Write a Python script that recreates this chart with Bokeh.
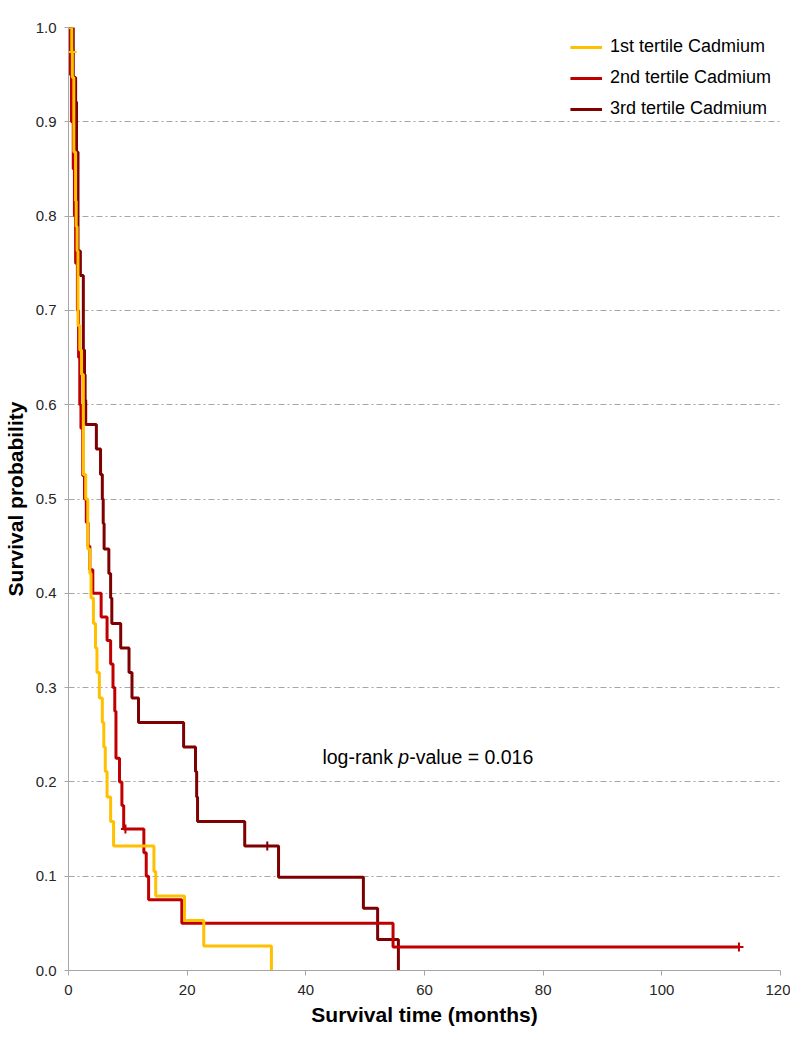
from bokeh.plotting import figure
from bokeh.models import (FixedTicker, NumeralTickFormatter, Label, Legend,
                          LegendItem, Range1d)
from bokeh.embed import file_html
from bokeh.resources import INLINE

# ---------------- data ----------------
t1_times = [0, 0.55, 0.65, 0.9, 1.2, 1.3, 1.45, 1.6, 1.9, 2.2, 2.5, 2.9, 3.25, 3.6,
            3.8, 4.2, 4.55, 4.8, 5.2, 5.7, 5.95, 6.2, 6.5, 7.1, 7.6, 14.4, 14.7,
            19.55, 22.8, 34.2]
t1_surv = [1.0, 0.974, 0.947, 0.868, 0.816, 0.789, 0.763, 0.684, 0.658, 0.632,
           0.526, 0.5, 0.447, 0.421, 0.395, 0.368, 0.342, 0.316, 0.289, 0.263,
           0.237, 0.211, 0.184, 0.158, 0.132, 0.105, 0.079, 0.053, 0.026, 0.0]
t1_cens_x = [0.6]
t1_cens_y = [0.974]

t2_times = [0, 0.3, 0.5, 0.8, 1.0, 1.2, 1.5, 1.7, 1.9, 2.1, 2.4, 2.7, 3.0, 3.3, 3.6,
            4.1, 5.5, 6.5, 7.1, 7.5, 7.8, 8.0, 8.6, 9.0, 9.3, 12.7, 13.1, 13.5,
            19.1, 54.7, 113.0]
t2_surv = [1.0, 0.95, 0.9, 0.85, 0.8, 0.75, 0.7, 0.65, 0.6, 0.575, 0.525, 0.5,
           0.475, 0.45, 0.425, 0.4, 0.375, 0.35, 0.325, 0.3, 0.275, 0.225, 0.2,
           0.175, 0.15, 0.125, 0.1, 0.075, 0.05, 0.025, 0.025]
t2_cens_x = [9.6, 113.0]
t2_cens_y = [0.15, 0.025]

t3_times = [0, 0.8, 1.2, 1.35, 1.6, 2.0, 2.5, 2.7, 2.8, 2.9, 4.7, 5.4, 5.7, 5.85,
            6.0, 6.8, 7.1, 7.3, 8.8, 10.2, 10.7, 11.8, 19.4, 21.4, 21.6, 21.75,
            29.7, 35.4, 49.7, 52.1, 55.6]
t3_surv = [1.0, 0.947, 0.921, 0.868, 0.763, 0.737, 0.658, 0.632, 0.605, 0.579,
           0.553, 0.526, 0.5, 0.474, 0.447, 0.421, 0.395, 0.368, 0.342, 0.316,
           0.289, 0.263, 0.237, 0.211, 0.184, 0.158, 0.132, 0.099, 0.066, 0.033,
           0.0]
t3_cens_x = [33.5]
t3_cens_y = [0.132]

series_names = ["1st tertile Cadmium", "2nd tertile Cadmium", "3rd tertile Cadmium"]
series_colors = ["#FFC000", "#C00000", "#7F0000"]

x_ticks = [0, 20, 40, 60, 80, 100, 120]
y_ticks = [0.0, 0.1, 0.2, 0.3, 0.4, 0.5, 0.6, 0.7, 0.8, 0.9, 1.0]

annot_x = 42.8
annot_y = 0.226

# ---------------- figure ----------------
FONT = "Liberation Sans"
p = figure(width=790, height=1040, x_range=Range1d(0, 120), y_range=Range1d(0, 1),
           output_backend="svg", toolbar_location=None,
           min_border_left=68, min_border_right=10, min_border_top=27,
           min_border_bottom=70)
p.outline_line_color = None
p.background_fill_color = "white"

# curves: draw 3rd, 2nd, then 1st on top
r3 = p.step(t3_times, t3_surv, mode="after", line_color=series_colors[2], line_width=3)
p.scatter(t3_cens_x, t3_cens_y, marker="cross", size=9, line_width=2,
          line_color=series_colors[2])
r2 = p.step(t2_times, t2_surv, mode="after", line_color=series_colors[1], line_width=3)
p.scatter(t2_cens_x, t2_cens_y, marker="cross", size=9, line_width=2,
          line_color=series_colors[1])
r1 = p.step(t1_times, t1_surv, mode="after", line_color=series_colors[0], line_width=3)
p.scatter(t1_cens_x, t1_cens_y, marker="cross", size=9, line_width=2,
          line_color=series_colors[0])

# axes
for ax in (p.xaxis, p.yaxis):
    ax.axis_line_color = "#a6a6a6"
    ax.major_tick_line_color = "#a6a6a6"
    ax.minor_tick_line_color = None
    ax.major_tick_in = 0
    ax.major_tick_out = 5
    ax.major_label_text_font = FONT
    ax.major_label_text_font_size = "15px"
    ax.major_label_text_color = "#262626"
    ax.axis_label_text_font = FONT
    ax.axis_label_text_font_size = "21px"
    ax.axis_label_text_font_style = "bold"
    ax.axis_label_text_color = "#000000"

p.xaxis.ticker = FixedTicker(ticks=x_ticks)
p.yaxis.ticker = FixedTicker(ticks=y_ticks)
p.yaxis.formatter = NumeralTickFormatter(format="0.0")
p.xaxis.axis_label = "Survival time (months)"
p.yaxis.axis_label = "Survival probability"
p.xaxis.major_label_standoff = 9
p.xaxis.axis_label_standoff = 5
p.yaxis.major_tick_out = 4
p.yaxis.major_label_standoff = 8
p.yaxis.axis_label_standoff = 6

p.xgrid.visible = False
p.ygrid.grid_line_color = "#a6a6a6"
p.ygrid.grid_line_dash = "6 3 2 3"
p.ygrid.grid_line_width = 1

# legend
legend = Legend(items=[LegendItem(label=series_names[0], renderers=[r1]),
                       LegendItem(label=series_names[1], renderers=[r2]),
                       LegendItem(label=series_names[2], renderers=[r3])],
                location="top_right")
legend.label_text_font = FONT
legend.label_text_font_size = "18px"
legend.label_text_color = "#000000"
legend.glyph_width = 32
legend.glyph_height = 20
legend.label_height = 20
legend.label_standoff = 8
legend.spacing = 10
legend.padding = 9
legend.margin = 0
legend.border_line_alpha = 0
legend.background_fill_alpha = 0
p.add_layout(legend)

# annotation with italic p
FS = 19.5
w_logrank = 3.89 * FS
w_p = 0.556 * FS
common = dict(x=annot_x, y=annot_y, text_font=FONT, text_font_size=f"{FS}px",
              text_baseline="middle", text_color="#000000")
p.add_layout(Label(text="log-rank", x_offset=0, **common))
p.add_layout(Label(text="p", x_offset=w_logrank, text_font_style="italic", **common))
p.add_layout(Label(text="-value = 0.016", x_offset=w_logrank + w_p, **common))

open("out.html", "w").write(file_html(p, INLINE))
